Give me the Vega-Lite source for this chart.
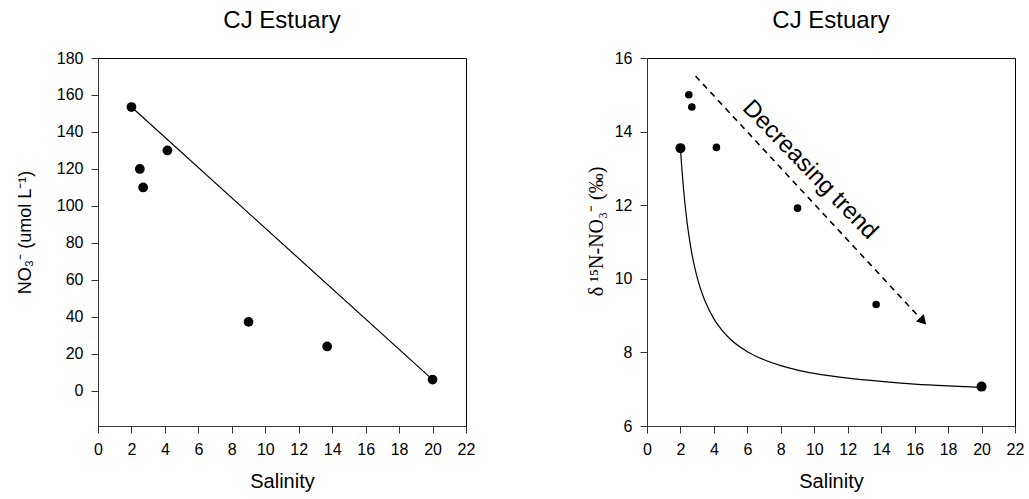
{
  "$schema": "https://vega.github.io/schema/vega-lite/v6.json",
  "background": "white",
  "padding": {"left": 15, "top": 8, "right": 2, "bottom": 5},
  "bounds": "flush",
  "spacing": 181,
  "config": {
    "font": "Liberation Sans",
    "view": {"stroke": "black", "strokeWidth": 1},
    "axis": {"grid": false, "domainColor": "#333", "tickColor": "#333", "labelColor": "black", "titleColor": "black", "labelFontSize": 16, "titleFontSize": 20, "titleFontWeight": "normal", "tickSize": 7, "labelPadding": 8, "labelOverlap": false, "labelFlush": false, "labelFont": "Liberation Sans", "titleFont": "Liberation Sans"},
    "title": {"fontSize": 24, "fontWeight": "normal", "offset": 17, "font": "Liberation Sans", "color": "black"}
  },
  "datasets": {
    "no3": [
      {"salinity": 2.0, "no3": 153.5},
      {"salinity": 2.5, "no3": 120},
      {"salinity": 2.7, "no3": 110},
      {"salinity": 4.15, "no3": 130},
      {"salinity": 9.0, "no3": 37.3},
      {"salinity": 13.7, "no3": 24},
      {"salinity": 20.0, "no3": 6.1}
    ],
    "no3line": [
      {"salinity": 2.0, "no3": 153.5},
      {"salinity": 20.0, "no3": 6.1}
    ],
    "d15n": [
      {"salinity": 2.0, "d15n": 13.55, "big": "yes"},
      {"salinity": 2.5, "d15n": 15.0, "big": "no"},
      {"salinity": 2.68, "d15n": 14.67, "big": "no"},
      {"salinity": 4.15, "d15n": 13.57, "big": "no"},
      {"salinity": 9.0, "d15n": 11.92, "big": "no"},
      {"salinity": 13.7, "d15n": 9.3, "big": "no"},
      {"salinity": 20.0, "d15n": 7.07, "big": "yes"}
    ],
    "curve": [
      {"salinity": 2.0, "d15n": 13.55},
      {"salinity": 2.05, "d15n": 13.21},
      {"salinity": 2.1, "d15n": 12.9},
      {"salinity": 2.2, "d15n": 12.36},
      {"salinity": 2.4, "d15n": 11.52},
      {"salinity": 2.6, "d15n": 10.9},
      {"salinity": 2.8, "d15n": 10.42},
      {"salinity": 3.0, "d15n": 10.04},
      {"salinity": 3.25, "d15n": 9.66},
      {"salinity": 3.5, "d15n": 9.36},
      {"salinity": 4.0, "d15n": 8.91},
      {"salinity": 4.5, "d15n": 8.59},
      {"salinity": 5.0, "d15n": 8.35},
      {"salinity": 6.0, "d15n": 8.02},
      {"salinity": 7.0, "d15n": 7.8},
      {"salinity": 8.0, "d15n": 7.64},
      {"salinity": 9.0, "d15n": 7.52},
      {"salinity": 10.0, "d15n": 7.43},
      {"salinity": 12.0, "d15n": 7.3},
      {"salinity": 14.0, "d15n": 7.21},
      {"salinity": 16.0, "d15n": 7.14},
      {"salinity": 18.0, "d15n": 7.09},
      {"salinity": 20.0, "d15n": 7.05}
    ],
    "trend": [
      {"salinity": 2.9, "d15n": 15.51},
      {"salinity": 16.35, "d15n": 8.92}
    ],
    "arrowhead": [
      {"salinity": 16.5, "d15n": 8.85}
    ],
    "label": [
      {"salinity": 9.74, "d15n": 12.96, "text": "Decreasing trend"}
    ]
  },
  "hconcat": [
    {
      "width": 368,
      "height": 368,
      "title": "CJ Estuary",
      "encoding": {
        "x": {"field": "salinity", "type": "quantitative", "scale": {"domain": [0, 22], "nice": false, "zero": false}, "axis": {"values": [0, 2, 4, 6, 8, 10, 12, 14, 16, 18, 20, 22], "tickCount": 12, "labelOverlap": false, "labelFlush": false, "title": "Salinity", "titlePadding": 14}},
        "y": {"field": "no3", "type": "quantitative", "scale": {"domain": [-19, 180], "nice": false, "zero": false}, "axis": {"values": [0, 20, 40, 60, 80, 100, 120, 140, 160, 180], "labelOverlap": false, "title": "NO₃⁻ (umol L⁻¹)", "titleFontSize": 18, "titlePadding": 22, "titleY": 174}}
      },
      "layer": [
        {
          "data": {"name": "no3line"},
          "mark": {"type": "line", "color": "black", "strokeWidth": 1.2}
        },
        {
          "data": {"name": "no3"},
          "mark": {"type": "point", "filled": true, "color": "black", "opacity": 1, "size": 95}
        }
      ]
    },
    {
      "width": 368,
      "height": 368,
      "title": "CJ Estuary",
      "encoding": {
        "x": {"field": "salinity", "type": "quantitative", "scale": {"domain": [0, 22], "nice": false, "zero": false}, "axis": {"values": [0, 2, 4, 6, 8, 10, 12, 14, 16, 18, 20, 22], "tickCount": 12, "labelOverlap": false, "labelFlush": false, "title": "Salinity", "titlePadding": 14}},
        "y": {"field": "d15n", "type": "quantitative", "scale": {"domain": [6, 16], "nice": false, "zero": false}, "axis": {"values": [6, 8, 10, 12, 14, 16], "labelOverlap": false, "title": "δ ¹⁵N-NO₃⁻ (‰)", "titleFont": "Liberation Serif", "titleFontSize": 20, "titlePadding": 8, "titleY": 173}}
      },
      "layer": [
        {
          "data": {"name": "curve"},
          "mark": {"type": "line", "color": "black", "strokeWidth": 1.2, "interpolate": "monotone"}
        },
        {
          "data": {"name": "trend"},
          "mark": {"type": "line", "color": "black", "strokeWidth": 1.6, "strokeDash": [6, 5]}
        },
        {
          "data": {"name": "arrowhead"},
          "mark": {"type": "point", "shape": "triangle-up", "filled": true, "color": "black", "opacity": 1, "size": 115, "angle": 137}
        },
        {
          "data": {"name": "d15n"},
          "mark": {"type": "point", "filled": true, "color": "black", "opacity": 1},
          "encoding": {
            "size": {"field": "big", "type": "nominal", "scale": {"domain": ["yes", "no"], "range": [100, 58]}, "legend": null}
          }
        },
        {
          "data": {"name": "label"},
          "mark": {"type": "text", "fontSize": 24, "angle": 46, "align": "center", "baseline": "middle", "color": "black", "font": "Liberation Sans"},
          "encoding": {
            "text": {"field": "text"}
          }
        }
      ]
    }
  ]
}
